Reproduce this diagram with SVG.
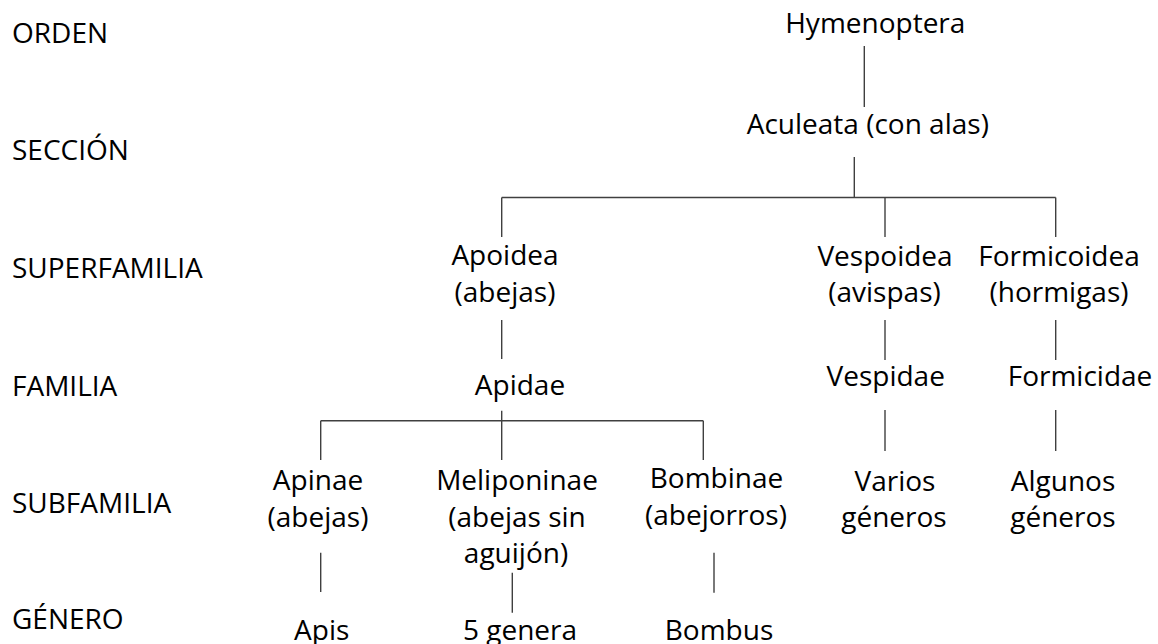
<svg xmlns="http://www.w3.org/2000/svg" width="1158" height="644" viewBox="0 0 1158 644">
<style>
text{font-family:"Open Sans","Noto Sans","Liberation Sans",sans-serif;font-size:28px;fill:#000}
.n text{text-anchor:middle}
#connectors line{stroke:#404040;stroke-width:1.4;fill:none}
</style>
<rect width="1158" height="644" fill="#fff"/>
<g id="levels">
<text x="12" y="43">ORDEN</text>
<text x="12" y="160">SECCIÓN</text>
<text x="12" y="278">SUPERFAMILIA</text>
<text x="12" y="396">FAMILIA</text>
<text x="12" y="513">SUBFAMILIA</text>
<text x="12" y="629">GÉNERO</text>
</g>
<g id="connectors">
<line x1="864.3" y1="46" x2="864.3" y2="107"/>
<line x1="854.3" y1="157" x2="854.3" y2="197.5"/>
<line x1="501.7" y1="197.5" x2="1055.7" y2="197.5"/>
<line x1="501.7" y1="197.5" x2="501.7" y2="237"/>
<line x1="885" y1="197.5" x2="885" y2="237"/>
<line x1="1055.7" y1="197.5" x2="1055.7" y2="237"/>
<line x1="501.7" y1="320" x2="501.7" y2="359"/>
<line x1="885" y1="320" x2="885" y2="360"/>
<line x1="1055.7" y1="320" x2="1055.7" y2="360"/>
<line x1="885" y1="410" x2="885" y2="451"/>
<line x1="1055.7" y1="410" x2="1055.7" y2="451"/>
<line x1="501.7" y1="410.7" x2="501.7" y2="460"/>
<line x1="320.7" y1="420.7" x2="703.3" y2="420.7"/>
<line x1="320.7" y1="420.7" x2="320.7" y2="460"/>
<line x1="703.3" y1="420.7" x2="703.3" y2="460"/>
<line x1="320.7" y1="552.7" x2="320.7" y2="592"/>
<line x1="512.3" y1="572.7" x2="512.3" y2="612.7"/>
<line x1="714" y1="552.7" x2="714" y2="592.7"/>
</g>
<g id="hymenoptera" class="n"><text x="875.3" y="33">Hymenoptera</text></g>
<g id="aculeata" class="n"><text x="867.8" y="134">Aculeata (con alas)</text></g>
<g id="apoidea" class="n"><text x="505" y="265">Apoidea</text><text x="505" y="302">(abejas)</text></g>
<g id="vespoidea" class="n"><text x="885" y="266">Vespoidea</text><text x="884.5" y="302">(avispas)</text></g>
<g id="formicoidea" class="n"><text x="1059" y="266">Formicoidea</text><text x="1059" y="302">(hormigas)</text></g>
<g id="apidae" class="n"><text x="520" y="395">Apidae</text></g>
<g id="vespidae" class="n"><text x="885.7" y="386">Vespidae</text></g>
<g id="formicidae" class="n"><text x="1080" y="386">Formicidae</text></g>
<g id="apinae" class="n"><text x="318" y="490">Apinae</text><text x="318" y="527">(abejas)</text></g>
<g id="meliponinae" class="n"><text x="517" y="490">Meliponinae</text><text x="517" y="527">(abejas sin</text><text x="516" y="563">aguijón)</text></g>
<g id="bombinae" class="n"><text x="716.5" y="488">Bombinae</text><text x="716" y="525">(abejorros)</text></g>
<g id="varios" class="n"><text x="895" y="491">Varios</text><text x="894" y="527">géneros</text></g>
<g id="algunos" class="n"><text x="1063" y="491">Algunos</text><text x="1063" y="527">géneros</text></g>
<g id="apis" class="n"><text x="321.7" y="640">Apis</text></g>
<g id="cinco" class="n"><text x="520" y="640">5 genera</text></g>
<g id="bombus" class="n"><text x="719" y="640">Bombus</text></g>
</svg>
